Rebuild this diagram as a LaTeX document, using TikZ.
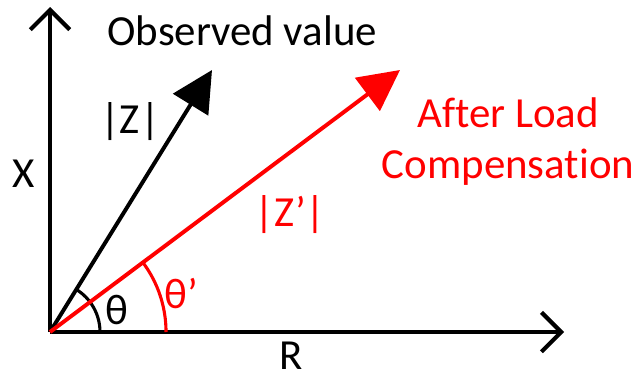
\documentclass[tikz,border=0pt]{standalone}
\usepackage{fontspec}
\setmainfont[Ligatures={NoCommon}]{Carlito}
\usepackage{tikz}
\usetikzlibrary{arrows.meta,angles}
\definecolor{comp}{RGB}{255,0,0}
\tikzset{
  axis/.style={line width=2.9pt, -{Straight Barb[length=14pt, width=28pt, line width=2.9pt]}},
  vec/.style={line width=2.8pt, -{Triangle[length=29pt, width=29pt]}},
  lbl/.style={font=\fontsize{30.5}{36}\selectfont, inner sep=0pt}
}

\begin{document}
\begin{tikzpicture}[x=0.025cm, y=0.025cm]
\useasboundingbox (-50,-45) rectangle (585,332);

% Axes
\coordinate (O) at (0,0);
\coordinate (Xtip) at (0,325);
\coordinate (Rtip) at (514,0);
\draw[axis] (O) -- (Xtip);
\draw[axis] (O) -- (Rtip);
\node[lbl] (xlab) at (-26,158) {X};
\node[lbl, anchor=base] (rlab) at (241,-37) {R};

% Observed impedance
\coordinate (Ztip) at (162,262);
\draw[vec] (O) -- (Ztip);
\node[lbl] (zlab) at (80,210) {|Z|};
\node[lbl, anchor=base west] (obs) at (57,287) {Observed value};
\pic[draw, line width=2.2pt, angle radius=1.25cm] {angle=Rtip--O--Ztip};
\node[lbl] (theta) at (67,22) {θ};

% After load compensation
\coordinate (Ctip) at (350,262);
\draw[vec, comp] (O) -- (Ctip);
\node[lbl, comp] (zclab) at (240,117) {|Z’|};
\node[lbl, comp, anchor=base] (after) at (458,205) {After Load};
\node[lbl, comp, anchor=base] (compn) at (458,154) {Compensation};
\pic[draw=comp, line width=2.2pt, angle radius=2.9cm] {angle=Rtip--O--Ctip};
\node[lbl, comp] (thetac) at (131,38) {θ’};
\end{tikzpicture}
\end{document}
